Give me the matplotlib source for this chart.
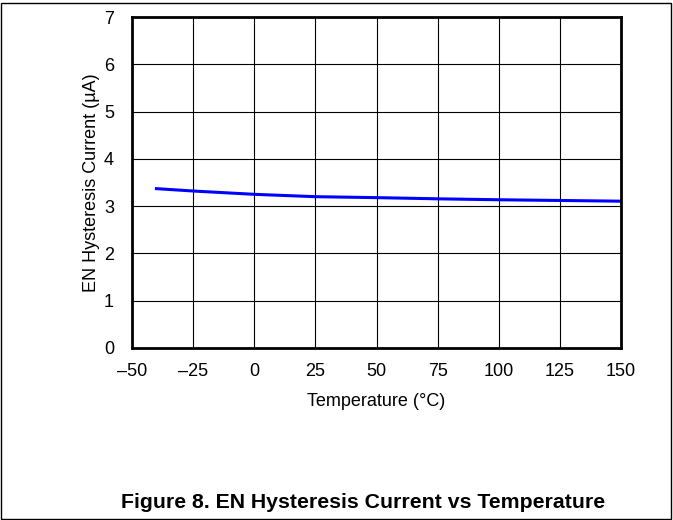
import matplotlib
matplotlib.use("Agg")
import matplotlib.pyplot as plt
from matplotlib.patches import Rectangle

temperature = [-40, -25, 0, 25, 50, 75, 100, 125, 150]
current = [3.37, 3.32, 3.25, 3.20, 3.18, 3.155, 3.135, 3.12, 3.105]
x_ticks = [-50, -25, 0, 25, 50, 75, 100, 125, 150]
x_tick_labels = ["\u201350", "\u201325", "0", "25", "50", "75", "100", "125", "150"]
y_ticks = [0, 1, 2, 3, 4, 5, 6, 7]

plt.rcParams['font.family'] = ['Liberation Sans', 'DejaVu Sans']

fig = plt.figure(figsize=(6.73, 5.20), dpi=100)
ax = fig.add_axes([132/673, 1-348/520, (621-132)/673, (348-17)/520])

ax.plot(temperature, current, color='#0000ff', lw=2.2)
ax.set_xlim(-50, 150)
ax.set_ylim(0, 7)
ax.set_xticks(x_ticks)
ax.set_xticklabels(x_tick_labels)
ax.set_yticks(y_ticks)
ax.grid(True, color='black', lw=0.8)
ax.tick_params(length=0, labelsize=13)
ax.tick_params(axis='x', pad=11)
ax.tick_params(axis='y', pad=13)
for s in ax.spines.values():
    s.set_linewidth(2)
    s.set_color('black')
ax.set_xlabel("Temperature (°C)", fontsize=13, labelpad=9)
ax.set_ylabel("EN Hysteresis Current (µA)", fontsize=13, labelpad=3)

fig.text(363/673, 1-503/520, "Figure 8. EN Hysteresis Current vs Temperature",
         ha='center', va='center', fontsize=15.3, fontweight='bold')

fig.patches.append(Rectangle((1/673, 1/520), 670/673, 516/520, transform=fig.transFigure,
                             fill=False, edgecolor='black', lw=1))

fig.savefig("out.png", dpi=100)
